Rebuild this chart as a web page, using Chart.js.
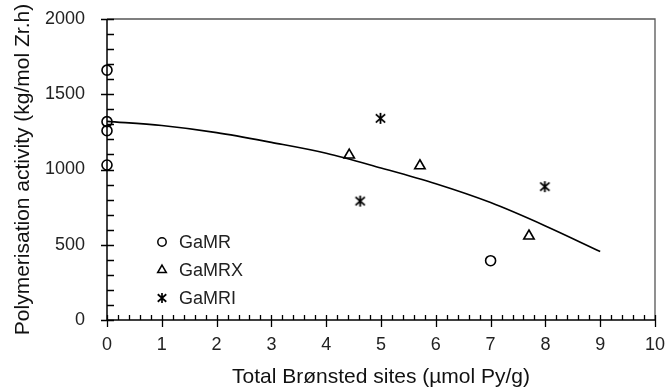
<!DOCTYPE html>
<html>
<head>
<meta charset="utf-8">
<script src="https://cdn.jsdelivr.net/npm/chart.js@4/dist/chart.umd.min.js"></script>
<style>
  html, body { margin: 0; padding: 0; background: #fff; }
  #wrap { width: 669px; height: 390px; }
</style>
</head>
<body>
<div id="wrap"><canvas id="chart" width="669" height="390"></canvas></div>
<script>
// Total Brønsted sites (x) against polymerisation activity (y)
const gamrX = [0, 0, 0, 0, 7];
const gamrY = [1660, 1318, 1258, 1030, 394];
const gamrxX = [4.42, 5.71, 7.7];
const gamrxY = [1096, 1025, 558];
const gamriX = [4.99, 4.62, 7.99];
const gamriY = [1340, 790, 886];
// trend curve, read at each whole unit
const fitX = [0, 1, 2, 3, 4, 5, 6, 7, 8, 9];
const fitY = [1320, 1292, 1245, 1180, 1108, 1010, 905, 780, 625, 455];

const seriesNames = ['GaMR', 'GaMRX', 'GaMRI'];
const xMin = 0, xMax = 10, xStep = 1, xMinor = 0.2;
const yMin = 0, yMax = 2000, yStep = 500, yMinor = 100;

const FONT = 'Arial, "Liberation Sans", Helvetica, sans-serif';

const toPoints = (xs, ys) => xs.map((x, i) => ({ x: x, y: ys[i] }));

// asterisk marker: vertical bar plus an X
function makeStar(size, lw) {
  const c = document.createElement('canvas');
  c.width = size; c.height = size;
  const g = c.getContext('2d');
  const m = size / 2, r = size / 2 - 1;
  g.strokeStyle = '#000';
  g.lineWidth = lw;
  g.beginPath();
  g.moveTo(m, m - r); g.lineTo(m, m + r);
  g.moveTo(m - r * 0.85, m - r * 0.75); g.lineTo(m + r * 0.85, m + r * 0.75);
  g.moveTo(m + r * 0.85, m - r * 0.75); g.lineTo(m - r * 0.85, m + r * 0.75);
  g.stroke();
  return c;
}
const starBig = makeStar(13, 1.8);
const starSmall = makeStar(12, 1.7);

// axes, box, inner ticks
const framePlugin = {
  id: 'frame',
  afterDraw(chart) {
    const { ctx, chartArea: a, scales } = chart;
    const xs = scales.x, ys = scales.y;
    ctx.save();
    ctx.lineCap = 'butt';
    // top and right edges
    ctx.strokeStyle = '#555';
    ctx.lineWidth = 1.3;
    ctx.beginPath();
    ctx.moveTo(a.left, a.top); ctx.lineTo(a.right, a.top);
    ctx.lineTo(a.right, a.bottom);
    ctx.stroke();
    // left and bottom axes
    ctx.strokeStyle = '#000';
    ctx.lineWidth = 1.5;
    ctx.beginPath();
    ctx.moveTo(a.left, a.top); ctx.lineTo(a.left, a.bottom); ctx.lineTo(a.right, a.bottom);
    ctx.stroke();
    ctx.lineWidth = 1.3;
    ctx.beginPath();
    for (let v = yMin; v <= yMax + 1e-6; v += yMinor) {
      const py = Math.round(ys.getPixelForValue(v)) + 0.5;
      const major = Math.abs(v % yStep) < 1e-6;
      ctx.moveTo(a.left - (major ? 6 : 0), py);
      ctx.lineTo(a.left + 7, py);
    }
    for (let k = 0; k <= Math.round((xMax - xMin) / xMinor); k++) {
      const v = xMin + k * xMinor;
      const px = Math.round(xs.getPixelForValue(v)) + 0.5;
      const major = k % Math.round(xStep / xMinor) === 0;
      ctx.moveTo(px, a.bottom - 5);
      ctx.lineTo(px, a.bottom + (major ? 7 : 0));
    }
    ctx.stroke();
    ctx.restore();
  }
};

// legend in the lower left of the plot
const legendPlugin = {
  id: 'innerLegend',
  afterDraw(chart) {
    const { ctx, chartArea: a } = chart;
    const styles = [
      { pointStyle: 'circle', radius: 4.2, borderWidth: 1.5 },
      { pointStyle: 'triangle', radius: 5, borderWidth: 1.5 },
      { pointStyle: starSmall, radius: 6, borderWidth: 0 }
    ];
    ctx.save();
    ctx.font = '18px ' + FONT;
    ctx.textBaseline = 'middle';
    ctx.textAlign = 'left';
    seriesNames.forEach((name, i) => {
      const mx = a.left + 55, my = a.top + 223 + i * 28;
      ctx.fillStyle = 'rgba(0,0,0,0)';
      ctx.strokeStyle = '#000';
      ctx.lineWidth = styles[i].borderWidth;
      Chart.helpers.drawPoint(ctx, Object.assign({ rotation: 0 }, styles[i]), mx, my);
      ctx.fillStyle = '#222';
      ctx.fillText(name, mx + 17, my + 1);
    });
    ctx.restore();
  }
};

new Chart(document.getElementById('chart'), {
  type: 'scatter',
  data: {
    datasets: [
      {
        label: 'fit',
        data: toPoints(fitX, fitY),
        showLine: true,
        borderColor: '#000',
        borderWidth: 1.6,
        pointRadius: 0,
        cubicInterpolationMode: 'monotone',
        fill: false
      },
      {
        label: seriesNames[0],
        data: toPoints(gamrX, gamrY),
        pointStyle: 'circle',
        pointRadius: 5,
        pointBorderWidth: 1.6,
        borderColor: '#000',
        backgroundColor: 'rgba(0,0,0,0)',
        clip: false
      },
      {
        label: seriesNames[1],
        data: toPoints(gamrxX, gamrxY),
        pointStyle: 'triangle',
        pointRadius: 6,
        pointBorderWidth: 1.6,
        borderColor: '#000',
        backgroundColor: 'rgba(0,0,0,0)',
        clip: false
      },
      {
        label: seriesNames[2],
        data: toPoints(gamriX, gamriY),
        pointStyle: starBig,
        pointRadius: 6,
        borderColor: '#000',
        backgroundColor: '#000',
        clip: false
      }
    ]
  },
  options: {
    responsive: false,
    animation: false,
    layout: { padding: { top: 19, right: 14, left: 0, bottom: 0 } },
    plugins: {
      legend: { display: false },
      tooltip: { enabled: false }
    },
    scales: {
      x: {
        type: 'linear',
        min: xMin,
        max: xMax,
        grid: { display: false },
        border: { display: false },
        afterFit: (s) => { s.height = 70; s.paddingLeft = 0; s.paddingRight = 0; },
        ticks: {
          stepSize: xStep,
          padding: 6,
          color: '#222',
          font: { family: FONT, size: 18 },
          callback: (v) => String(v)
        },
        title: {
          display: true,
          text: 'Total Brønsted sites (µmol Py/g)',
          color: '#111',
          padding: { top: 0, bottom: 0 },
          font: { family: FONT, size: 21 }
        }
      },
      y: {
        type: 'linear',
        min: yMin,
        max: yMax,
        grid: { display: false },
        border: { display: false },
        afterFit: (s) => { s.width = 107; s.paddingTop = 0; s.paddingBottom = 0; },
        ticks: {
          stepSize: yStep,
          padding: 14,
          color: '#222',
          font: { family: FONT, size: 18 },
          callback: (v) => String(v)
        },
        title: {
          display: true,
          text: 'Polymerisation activity (kg/mol Zr.h)',
          color: '#111',
          padding: { top: 11, bottom: 0 },
          font: { family: FONT, size: 21 }
        }
      }
    }
  },
  plugins: [framePlugin, legendPlugin]
});
</script>
</body>
</html>
